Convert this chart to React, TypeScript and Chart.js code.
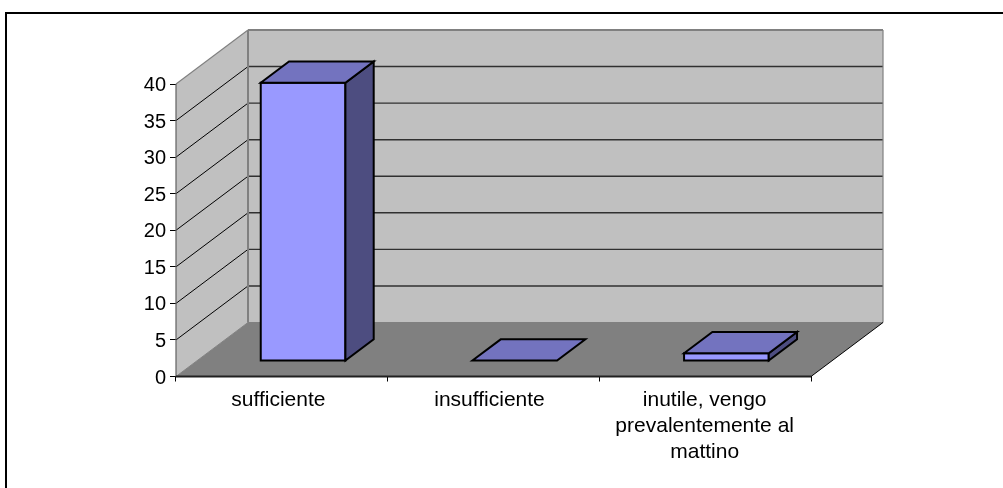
import React, { useEffect, useRef } from "react";
import { Chart, registerables } from "chart.js";

Chart.register(...registerables);

const categories: (string | string[])[] = [
  "sufficiente",
  "insufficiente",
  ["inutile, vengo", "prevalentemente al", "mattino"],
];
const seriesValues = [38, 0, 1];
const yTicks = { min: 0, max: 40, step: 5 };

const DEPTH_X = 72;
const DEPTH_Y = 54;
const BAR_Z0 = 0.295;
const BAR_Z1 = 0.688;

const WALL = "#c0c0c0";
const FLOOR = "#808080";
const EDGE = "#808080";
const FRONT = "#9999ff";
const TOP = "#7373bf";
const SIDE = "#4d4d80";

type P = [number, number];
const proj = (x: number, y: number, z: number): P => [x + DEPTH_X * z, y - DEPTH_Y * z];

function poly(ctx: CanvasRenderingContext2D, pts: P[], fill: string | null, stroke: string | null, lw = 1) {
  ctx.beginPath();
  pts.forEach((p, i) => (i ? ctx.lineTo(p[0], p[1]) : ctx.moveTo(p[0], p[1])));
  ctx.closePath();
  if (fill) {
    ctx.fillStyle = fill;
    ctx.fill();
  }
  if (stroke) {
    ctx.strokeStyle = stroke;
    ctx.lineWidth = lw;
    ctx.lineJoin = "miter";
    ctx.stroke();
  }
}

function seg(ctx: CanvasRenderingContext2D, a: P, b: P, color: string, lw = 1) {
  ctx.beginPath();
  ctx.moveTo(a[0], a[1]);
  ctx.lineTo(b[0], b[1]);
  ctx.strokeStyle = color;
  ctx.lineWidth = lw;
  ctx.stroke();
}

const labelNudge = {
  id: "labelNudge",
  beforeDraw(chart: any) {
    const shiftsX = [-3.5, -4, -0.5];
    chart.scales.x.getLabelItems().forEach((item: any, i: number) => {
      const t = item.options.translation;
      item.options.translation = [t[0] + shiftsX[i], t[1]];
    });
    chart.scales.y.getLabelItems().forEach((item: any) => {
      const t = item.options.translation;
      item.options.translation = [t[0], t[1] + 1.5];
    });
  },
};

const box3d = {
  id: "box3d",
  beforeDatasetsDraw(chart: any) {
    const { ctx, chartArea: a, scales } = chart;
    const y = scales.y;
    const { left: l, right: r, top: t, bottom: b } = a;
    ctx.save();
    poly(ctx, [proj(l, t, 1), proj(r, t, 1), proj(r, b, 1), proj(l, b, 1)], WALL, null);
    poly(ctx, [proj(l, t, 0), proj(l, t, 1), proj(l, b, 1), proj(l, b, 0)], WALL, null);
    poly(ctx, [proj(l, b, 0), proj(l, b, 1), proj(r, b, 1), proj(r, b, 0)], FLOOR, null);
    for (let v = yTicks.min + yTicks.step; v < yTicks.max; v += yTicks.step) {
      const py = y.getPixelForValue(v);
      seg(ctx, proj(l, py, 0), proj(l, py, 1), "#000000");
      seg(ctx, proj(l, py, 1), proj(r, py, 1), "#303030", 1.4);
    }
    seg(ctx, proj(l, t, 0), proj(l, t, 1), EDGE, 1.2);
    seg(ctx, proj(l, t, 1), proj(r, t, 1), EDGE, 2);
    seg(ctx, proj(r, t, 1), proj(r, b, 1), EDGE, 1.2);
    seg(ctx, proj(l, t, 1), proj(l, b, 1), EDGE, 2);
    seg(ctx, proj(l, b, 1), proj(r, b, 1), EDGE, 1.2);
    seg(ctx, proj(l, b, 0), proj(l, b, 1), EDGE, 1);
    seg(ctx, proj(r, b, 0), proj(r, b, 1), "#000000", 1);
    seg(ctx, proj(l, t, 0), proj(l, b, 0), "#606060", 1.2);
    ctx.restore();
  },
  afterDatasetsDraw(chart: any) {
    const { ctx, scales } = chart;
    const meta = chart.getDatasetMeta(0);
    const base = scales.y.getPixelForValue(0);
    ctx.save();
    meta.data.forEach((bar: any) => {
      const { x, y, width } = bar.getProps(["x", "y", "width"], true);
      const x0 = x - width / 2;
      const x1 = x + width / 2;
      const stroke = "#000000";
      if (Math.abs(base - y) > 0.5) {
        poly(ctx, [proj(x0, y, BAR_Z0), proj(x1, y, BAR_Z0), proj(x1, base, BAR_Z0), proj(x0, base, BAR_Z0)], FRONT, stroke, 2);
        poly(ctx, [proj(x1, y, BAR_Z0), proj(x1, y, BAR_Z1), proj(x1, base, BAR_Z1), proj(x1, base, BAR_Z0)], SIDE, stroke, 2);
      }
      poly(ctx, [proj(x0, y, BAR_Z0), proj(x0, y, BAR_Z1), proj(x1, y, BAR_Z1), proj(x1, y, BAR_Z0)], TOP, stroke, 2);
    });
    seg(ctx, [chart.chartArea.left, base], [chart.chartArea.right, base], "#202020", 2);
    ctx.restore();
  },
};

export default function App() {
  const ref = useRef<HTMLCanvasElement>(null);
  useEffect(() => {
    if (!ref.current) return;
    const family = "'Liberation Sans', Arial, sans-serif";
    const chart = new Chart(ref.current, {
      type: "bar",
      data: {
        labels: categories as any,
        datasets: [
          {
            data: seriesValues,
            backgroundColor: "rgba(0,0,0,0)",
            borderWidth: 0,
            categoryPercentage: 1,
            barPercentage: 0.4,
          },
        ],
      },
      options: {
        responsive: false,
        animation: false,
        events: [],
        layout: { padding: { left: 16, top: 84, right: 192, bottom: 0 } },
        plugins: { legend: { display: false }, title: { display: false }, tooltip: { enabled: false } },
        scales: {
          x: {
            offset: true,
            grid: { drawOnChartArea: false, tickLength: 5, color: "#000000", offset: true },
            border: { display: true, color: "#000000" },
            ticks: {
              font: { family, size: 21, lineHeight: 1.24 },
              color: "#000000",
              padding: 6,
              maxRotation: 0,
              autoSkip: false,
            },
            afterFit: (s: any) => {
              s.height = 111.5;
            },
          },
          y: {
            min: yTicks.min,
            max: yTicks.max,
            grid: { drawOnChartArea: false, tickLength: 6, color: "#000000" },
            border: { display: true, color: "#000000" },
            ticks: { stepSize: yTicks.step, font: { family, size: 20 }, color: "#000000", padding: 4 },
            afterFit: (s: any) => {
              s.width = 160;
            },
          },
        },
      },
      plugins: [labelNudge, box3d],
    });
    return () => chart.destroy();
  }, []);
  return (
    <div style={{ position: "absolute", left: 0, top: 0, width: 1003, height: 488, background: "#fff", overflow: "hidden" }}>
      <canvas ref={ref} width={1003} height={488} style={{ display: "block" }} />
      <div
        style={{
          position: "absolute",
          left: 5,
          top: 12,
          width: 1100,
          height: 600,
          border: "2px solid #000",
          boxSizing: "border-box",
        }}
      />
    </div>
  );
}
